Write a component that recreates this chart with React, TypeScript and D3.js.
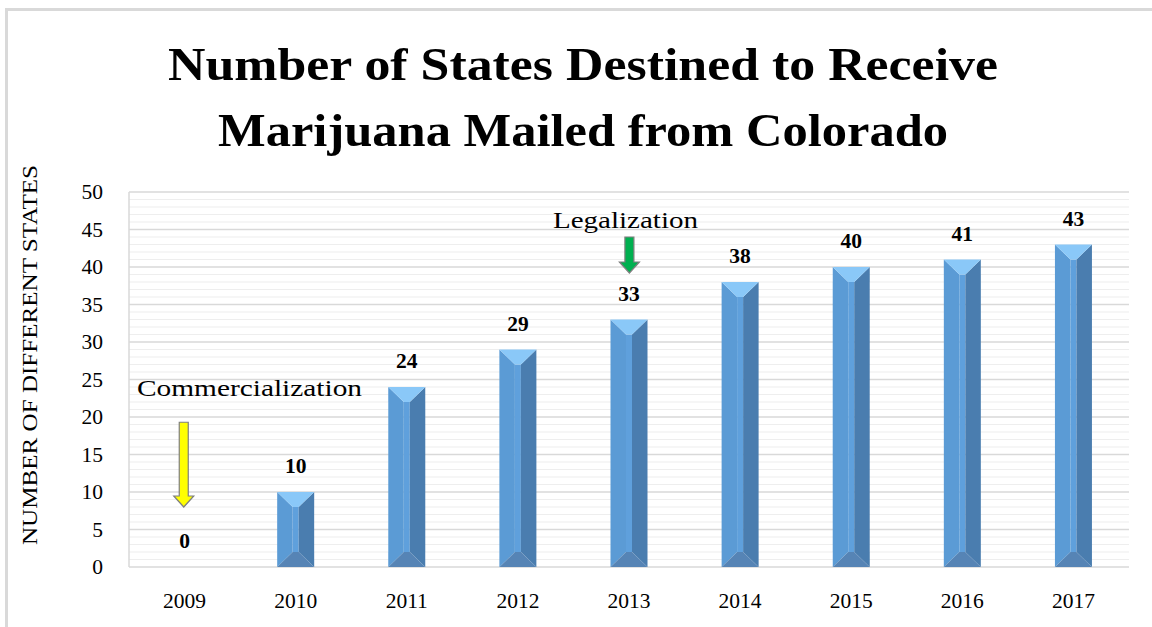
import React from "react";
import * as d3 from "d3";

const years = ["2009", "2010", "2011", "2012", "2013", "2014", "2015", "2016", "2017"];
const states = [0, 10, 24, 29, 33, 38, 40, 41, 43];
const yTicks = [0, 5, 10, 15, 20, 25, 30, 35, 40, 45, 50];
const titleLines = ["Number of States Destined to Receive", "Marijuana Mailed from Colorado"];
const yAxisTitle = "NUMBER OF DIFFERENT STATES";
const annotations = [
  { label: "Commercialization", year: "2009", textValue: 22.8, from: 19.3, to: 8.0, color: "#FFFF00" },
  { label: "Legalization", year: "2013", textValue: 45.2, from: 44.0, to: 39.2, color: "#00B050" },
];

const W = 1152;
const H = 627;
const FONT = "'Palatino Linotype', 'Book Antiqua', Palatino, 'Liberation Serif', serif";

export default function App() {
  const x = d3.scaleBand<string>().domain(years).range([129, 1129]).paddingInner(0).paddingOuter(0);
  const y = d3.scaleLinear().domain([0, 50]).range([567, 192]);
  const minor = d3.range(0, 51, 1);
  const bw = 37;
  const inset = 15.5;
  const depth = 15;

  return (
    <svg width={W} height={H} style={{ position: "absolute", left: 0, top: 0, background: "#fff" }}>
      <rect x={0} y={0} width={W} height={H} fill="#fff" />
      {/* outer border */}
      <line x1={6.5} x2={6.5} y1={8} y2={H} stroke="#D9D9D9" strokeWidth={3} />
      <line x1={5} x2={W} y1={9.5} y2={9.5} stroke="#D9D9D9" strokeWidth={3} />

      {/* title */}
      {titleLines.map((t, i) => (
        <text key={i} x={583} y={80 + i * 66} textAnchor="middle" fontFamily={FONT} fontWeight="bold"
          fontSize={46} fill="#000" textLength={i === 0 ? 830 : 730} lengthAdjust="spacingAndGlyphs">{t}</text>
      ))}

      {/* gridlines */}
      {minor.map((v) => (
        <line key={"m" + v} x1={129} x2={1129} y1={y(v)} y2={y(v)}
          stroke={v % 5 === 0 ? "#D9D9D9" : "#EEEEEE"} strokeWidth={v % 5 === 0 ? 1.5 : 1.2} />
      ))}
      <line x1={129} x2={129} y1={192} y2={567} stroke="#D9D9D9" strokeWidth={1.5} />

      {/* y ticks */}
      {yTicks.map((v) => (
        <text key={v} x={103} y={y(v) + 7} textAnchor="end" fontFamily={FONT} fontSize={21.5} fill="#000">{v}</text>
      ))}

      {/* y axis title */}
      <text transform={`translate(37,355) rotate(-90)`} textAnchor="middle" fontFamily={FONT} fontSize={20}
        fill="#000" textLength={380} lengthAdjust="spacingAndGlyphs">{yAxisTitle}</text>

      {/* x labels */}
      {years.map((yr) => (
        <text key={yr} x={x(yr)! + x.bandwidth() / 2} y={608} textAnchor="middle" fontFamily={FONT} fontSize={21.5} fill="#000">{yr}</text>
      ))}

      {/* bars */}
      {years.map((yr, i) => {
        const v = states[i];
        const cx = x(yr)! + x.bandwidth() / 2;
        const x0 = cx - bw / 2;
        const x1 = cx + bw / 2;
        const yt = y(v);
        const yb = y(0);
        const label = (
          <text x={cx} y={yt - 19} textAnchor="middle" fontFamily={FONT} fontWeight="bold" fontSize={21.5} fill="#000">{v}</text>
        );
        if (v === 0) return <g key={yr}>{label}</g>;
        const h = yb - yt;
        const dv = Math.min(depth, h / 2);
        const il = x0 + inset;
        const ir = x1 - inset;
        return (
          <g key={yr}>
            <rect x={il} y={yt + dv} width={ir - il} height={h - 2 * dv} fill="#5FA0DC" />
            <polygon points={`${x0},${yt} ${il},${yt + dv} ${il},${yb - dv} ${x0},${yb}`} fill="#5B9BD5" />
            <polygon points={`${x1},${yt} ${ir},${yt + dv} ${ir},${yb - dv} ${x1},${yb}`} fill="#4A7DAF" />
            <polygon points={`${x0},${yt} ${x1},${yt} ${ir},${yt + dv} ${il},${yt + dv}`} fill="#8AC8F8" />
            <polygon points={`${x0},${yb} ${il},${yb - dv} ${ir},${yb - dv} ${x1},${yb}`} fill="#5684B5" />
            {label}
          </g>
        );
      })}

      {/* annotations */}
      {annotations.map((a) => {
        const cx = x(a.year)! + x.bandwidth() / 2 - (a.year === "2009" ? 0.8 : -0.4);
        const yTop = y(a.from);
        const yTip = y(a.to);
        const headH = 11;
        const sw = 4.5;
        const hw = 10;
        const pts = [
          [cx - sw, yTop], [cx + sw, yTop], [cx + sw, yTip - headH], [cx + hw, yTip - headH],
          [cx, yTip], [cx - hw, yTip - headH], [cx - sw, yTip - headH],
        ].map((p) => p.join(",")).join(" ");
        return (
          <g key={a.label}>
            <text x={a.year === "2009" ? 249.5 : 625.5} y={y(a.textValue)} textAnchor="middle" fontFamily={FONT}
              fontSize={23} fill="#000" textLength={a.year === "2009" ? 225 : 145} lengthAdjust="spacingAndGlyphs">{a.label}</text>
            <polygon points={pts} fill={a.color} stroke="#7F7F7F" strokeWidth={1.2} />
          </g>
        );
      })}
    </svg>
  );
}
